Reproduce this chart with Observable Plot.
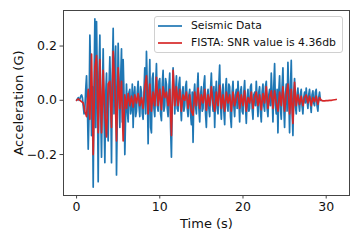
<!DOCTYPE html>
<html>
<head>
<meta charset="utf-8">
<script src="https://cdn.jsdelivr.net/npm/d3@7"></script>
<script src="https://cdn.jsdelivr.net/npm/@observablehq/plot@0.6"></script>
<style>
  html, body { margin: 0; padding: 0; background: #fff; }
  #wrap { position: relative; width: 360px; height: 240px; font-family: "DejaVu Sans", sans-serif; }
  #legend { position: absolute; left: 154px; top: 16px; width: 187px; height: 35px;
    border: 1px solid #d0d0d0; border-radius: 3px; background: rgba(255,255,255,0.85);
    font-size: 10.8px; color: #111; }
  .row { position: absolute; left: 0; height: 12px; display: flex; align-items: center; white-space: nowrap; }
  .row svg { margin-left: 3px; margin-right: 9px; }
</style>
</head>
<body>
<div id="wrap"><div id="legend"></div></div>
<script>
const dtSeismic = 0.1;
const dtFista = 0.2;
const xTicks = [0, 10, 20, 30];
const yTicks = [-0.2, 0.0, 0.2];
const seriesNames = ["Seismic Data", "FISTA: SNR value is 4.36db"];
const xLabel = "Time (s)";
const yLabel = "Acceleration (G)";

const seismic = [
  0.00, 0.005, 0.01, 0.0, 0.005, 0.015, 0.02, 0.01, -0.02, -0.05,
  -0.03, 0.04, 0.09, -0.02, -0.18, -0.05, 0.24, 0.10, -0.13, 0.05,
  -0.32, 0.05, 0.30, -0.10, 0.29, 0.05, -0.30, 0.10, 0.24, -0.05,
  -0.21, 0.03, 0.19, -0.05, -0.23, 0.02, 0.10, -0.08, -0.15, 0.05,
  0.16, 0.02, -0.23, 0.10, 0.265, -0.05, 0.12, 0.20, -0.275, -0.05,
  0.21, 0.05, -0.10, 0.08, 0.19, -0.08, 0.15, 0.02, -0.20, -0.05,
  0.06, -0.04, -0.08, 0.03, 0.04, -0.05, -0.03, 0.06, -0.10, 0.02,
  0.05, -0.06, -0.04, 0.03, 0.07, -0.02, -0.06, 0.05, 0.03, -0.05,
  -0.07, 0.03, 0.12, -0.05, 0.18, 0.05, -0.16, 0.02, 0.15, -0.10,
  -0.12, 0.08, 0.10, -0.03, -0.06, 0.05, 0.135, -0.02, -0.04, 0.07,
  0.08, -0.05, -0.075, 0.06, 0.11, -0.04, -0.02, 0.08, 0.06, -0.03,
  -0.06, 0.05, 0.10, -0.10, -0.21, 0.00, 0.12, 0.05, -0.05, 0.03,
  0.09, -0.03, -0.04, 0.06, 0.085, -0.02, -0.075, 0.03, 0.05, -0.04,
  -0.02, 0.05, 0.07, -0.03, -0.06, 0.02, 0.04, -0.05, -0.09, 0.03,
  -0.155, 0.02, 0.06, -0.02, -0.05, 0.04, 0.10, -0.03, -0.08, 0.02,
  0.05, -0.04, -0.03, 0.06, 0.09, -0.05, -0.10, 0.02, 0.04, -0.03,
  -0.06, 0.04, 0.10, 0.00, -0.04, 0.05, -0.10, 0.02, 0.07, -0.03,
  -0.05, 0.06, 0.13, -0.02, -0.07, 0.03, 0.06, -0.04, -0.09, 0.04,
  0.08, -0.02, -0.04, 0.06, 0.05, -0.06, -0.10, 0.03, 0.07, -0.02,
  -0.06, 0.02, 0.04, -0.03, 0.07, 0.01, -0.08, 0.03, 0.05, -0.04,
  -0.05, 0.03, 0.073, -0.02, -0.085, 0.01, 0.04, -0.04, -0.03, 0.05,
  0.06, -0.03, -0.07, 0.02, 0.03, -0.02, 0.07, 0.00, -0.06, 0.03,
  0.05, -0.04, -0.08, 0.03, 0.06, -0.02, -0.04, 0.05, 0.07, -0.03,
  -0.06, 0.02, 0.04, -0.02, 0.10, 0.02, -0.08, 0.05, 0.135, -0.02,
  -0.05, 0.04, -0.12, 0.03, 0.09, -0.03, -0.07, 0.05, 0.12, -0.02,
  -0.10, 0.02, 0.06, -0.04, 0.14, 0.03, -0.12, 0.04, 0.147, -0.03,
  -0.13, 0.03, 0.08, -0.02, -0.05, 0.02, 0.045, -0.01, -0.04, 0.02,
  0.04, -0.02, -0.05, 0.01, 0.03, -0.01, 0.045, 0.00, -0.03, 0.02,
  0.04, -0.01, -0.045, 0.02, 0.035, -0.01, -0.02, 0.03, 0.04, -0.02,
  -0.04, 0.01, 0.03, 0.00, 0.00
];

const fista = [
  0.00, 0.005, 0.00, -0.005, -0.01,
  -0.04, -0.06, 0.04, -0.07, 0.17,
  -0.20, 0.12, 0.165, -0.12, 0.15,
  -0.12, 0.11, -0.05, -0.135, 0.06,
  0.07, -0.10, 0.18, 0.05, -0.15,
  0.12, -0.03, 0.07, -0.15, 0.02,
  -0.03, 0.025, -0.02, 0.015, -0.025,
  0.02, -0.01, 0.025, -0.02, 0.01,
  -0.03, 0.05, 0.09, -0.05, 0.06,
  -0.04, 0.03, -0.02, 0.085, -0.02,
  0.04, -0.035, 0.05, 0.01, 0.03,
  -0.02, 0.04, -0.13, 0.11, -0.02,
  0.05, -0.02, 0.04, -0.04, 0.02,
  0.00, 0.03, -0.03, 0.02, -0.04,
  -0.055, 0.03, -0.02, 0.045, -0.03,
  0.02, -0.01, 0.04, -0.037, 0.02,
  -0.02, 0.05, -0.01, -0.04, 0.03,
  -0.02, 0.055, -0.03, 0.02, -0.04,
  0.03, -0.01, 0.02, -0.04, 0.03,
  -0.02, 0.01, 0.03, -0.03, 0.02,
  -0.02, 0.035, -0.04, 0.01, -0.01,
  0.03, -0.03, 0.01, 0.03, -0.02,
  0.02, -0.035, 0.025, -0.01, 0.05,
  -0.03, 0.01, 0.035, -0.03, 0.035,
  -0.01, -0.04, 0.03, -0.02, 0.05,
  -0.04, 0.02, 0.06, -0.05, 0.04,
  -0.085, 0.066, -0.02, 0.02, -0.015,
  0.015, -0.02, 0.01, 0.02, -0.01,
  0.015, -0.02, 0.01, -0.005, 0.015,
  -0.015, 0.01, 0.00,
  -0.002, -0.002, -0.001, -0.001, 0.00, 0.00, 0.001, 0.002, 0.003
];

const colors = ["#1f77b4", "#d62728"];
const blueData = seismic.map((v, i) => ({t: i * dtSeismic, v}));
const redData = fista.map((v, i) => ({t: i * dtFista, v}));

const fmt = d => (d < 0 ? "\u2212" : "") + Math.abs(d).toFixed(1);

const chart = Plot.plot({
  width: 360,
  height: 240,
  marginLeft: 63,
  marginRight: 11,
  marginTop: 10,
  marginBottom: 45,
  style: {fontFamily: "DejaVu Sans, sans-serif", background: "transparent", overflow: "visible"},
  x: {domain: [-1.57, 32.8]},
  y: {domain: [-0.351, 0.331]},
  marks: [
    Plot.lineY(blueData, {x: "t", y: "v", stroke: colors[0], strokeWidth: 1.7}),
    Plot.lineY(redData, {x: "t", y: "v", stroke: colors[1], strokeWidth: 1.7}),
    Plot.frame({stroke: "#444", strokeWidth: 1}),
    Plot.axisX({ticks: xTicks, tickSize: 3.5, tickPadding: 3, fontSize: 12.5, label: null, stroke: "#444", color: "#111", tickFormat: d => String(d)}),
    Plot.axisY({ticks: yTicks, tickSize: 3.5, tickPadding: 3, fontSize: 12.5, label: null, stroke: "#444", color: "#111", tickFormat: fmt}),
    Plot.text([xLabel], {frameAnchor: "bottom", dy: 28, lineAnchor: "middle", fontSize: 13, fill: "#111", text: d => d}),
    Plot.text([yLabel], {frameAnchor: "left", dx: -45, rotate: -90, lineAnchor: "middle", textAnchor: "middle", fontSize: 13, fill: "#111", text: d => d})
  ]
});
const wrap = document.getElementById("wrap");
wrap.insertBefore(chart, wrap.firstChild);

const legend = document.getElementById("legend");
seriesNames.forEach((name, i) => {
  const row = document.createElement("div");
  row.className = "row";
  row.style.top = (i === 0 ? 2.5 : 19.5) + "px";
  row.innerHTML = `<svg width="24" height="4"><line x1="0" x2="24" y1="2" y2="2" stroke="${colors[i]}" stroke-width="1.7"/></svg><span>${name}</span>`;
  legend.appendChild(row);
});
</script>
</body>
</html>
